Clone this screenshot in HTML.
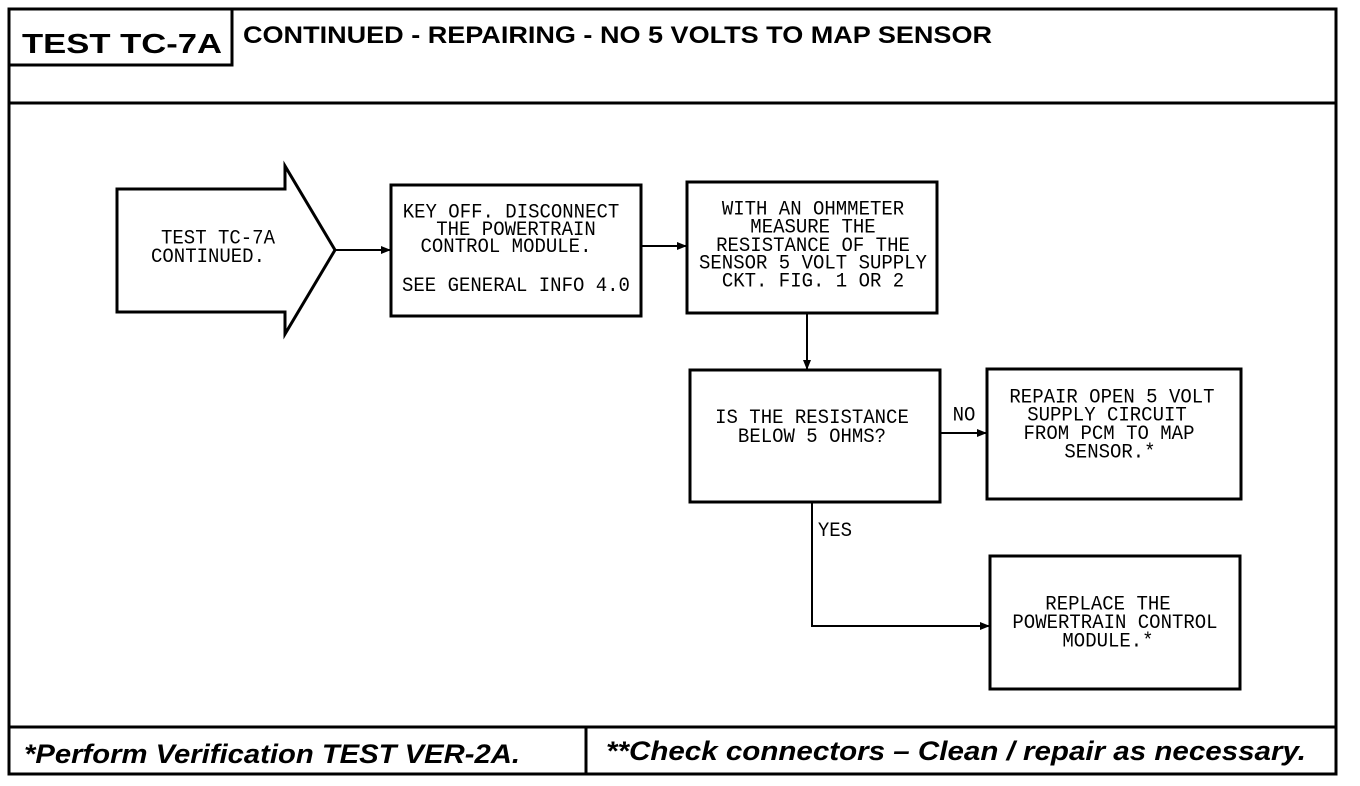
<!DOCTYPE html>
<html><head><meta charset="utf-8"><style>
html,body{margin:0;padding:0;background:#fff;}
svg{display:block;}
.m{font-family:"Liberation Mono",monospace;font-size:19px;fill:#000;text-anchor:middle;}
.h{font-family:"Liberation Sans",sans-serif;font-weight:bold;fill:#000;}
.f{font-family:"Liberation Sans",sans-serif;font-weight:bold;font-style:italic;font-size:27px;fill:#000;}
</style></head><body>
<svg width="1360" height="786" viewBox="0 0 1360 786" xmlns="http://www.w3.org/2000/svg">
<defs><marker id="a" markerWidth="10" markerHeight="8" refX="9" refY="4" orient="auto" markerUnits="userSpaceOnUse"><path d="M0,0 L10,4 L0,8 z" fill="#000"/></marker></defs>
<g fill="none" stroke="#000" stroke-width="3">
<rect x="9" y="9" width="1327" height="765"/>
<line x1="9" y1="103" x2="1336" y2="103"/>
<polyline points="9,65 232,65 232,9"/>
<line x1="9" y1="727" x2="1336" y2="727"/>
<line x1="586" y1="727" x2="586" y2="774"/>
<polygon points="117,189 285,189 285,166 335,250 285,334 285,312 117,312"/>
<rect x="391" y="185" width="250" height="131"/>
<rect x="687" y="182" width="250" height="131"/>
<rect x="690" y="370" width="250" height="132"/>
<rect x="987" y="369" width="254" height="130"/>
<rect x="990" y="556" width="250" height="133"/>
</g>
<g stroke="#000" stroke-width="2" fill="none">
<line x1="335" y1="250" x2="390" y2="250" marker-end="url(#a)"/>
<line x1="641" y1="246" x2="686" y2="246" marker-end="url(#a)"/>
<line x1="807" y1="313" x2="807" y2="369" marker-end="url(#a)"/>
<line x1="940" y1="433" x2="986" y2="433" marker-end="url(#a)"/>
<polyline points="812,502 812,626 989,626" marker-end="url(#a)"/>
</g>
<text class="h" x="22" y="53" font-size="28" textLength="200" lengthAdjust="spacingAndGlyphs">TEST TC-7A</text>
<text class="h" x="243" y="43" font-size="24" textLength="749" lengthAdjust="spacingAndGlyphs">CONTINUED -  REPAIRING - NO 5 VOLTS TO MAP SENSOR</text>
<g transform="translate(0,-20) scale(1,1.08)">
<text class="m" x="218" y="244">TEST TC-7A</text>
<text class="m" x="208" y="261">CONTINUED.</text>
<text class="m" x="511" y="220">KEY OFF. DISCONNECT</text>
<text class="m" x="516" y="236">THE POWERTRAIN</text>
<text class="m" x="506" y="252">CONTROL MODULE.</text>
<text class="m" x="516" y="288">SEE GENERAL INFO 4.0</text>
<text class="m" x="813" y="217">WITH AN OHMMETER</text>
<text class="m" x="813" y="234">MEASURE THE</text>
<text class="m" x="813" y="251">RESISTANCE OF THE</text>
<text class="m" x="813" y="267">SENSOR 5 VOLT SUPPLY</text>
<text class="m" x="813" y="284">CKT. FIG. 1 OR 2</text>
<text class="m" x="812" y="410">IS THE RESISTANCE</text>
<text class="m" x="812" y="428">BELOW 5 OHMS?</text>
<text class="m" x="964" y="408">NO</text>
<text class="m" x="835" y="515">YES</text>
<text class="m" x="1112" y="391">REPAIR OPEN 5 VOLT</text>
<text class="m" x="1107" y="408">SUPPLY CIRCUIT</text>
<text class="m" x="1109" y="425">FROM PCM TO MAP</text>
<text class="m" x="1110" y="442">SENSOR.*</text>
<text class="m" x="1108" y="583">REPLACE THE</text>
<text class="m" x="1115" y="600">POWERTRAIN CONTROL</text>
<text class="m" x="1108" y="617">MODULE.*</text>
</g>
<text class="f" x="24" y="763" textLength="496" lengthAdjust="spacingAndGlyphs">*Perform Verification TEST VER-2A.</text>
<text class="f" x="606" y="760" textLength="700" lengthAdjust="spacingAndGlyphs">**Check  connectors – Clean / repair as  necessary.</text>
</svg>
</body></html>
